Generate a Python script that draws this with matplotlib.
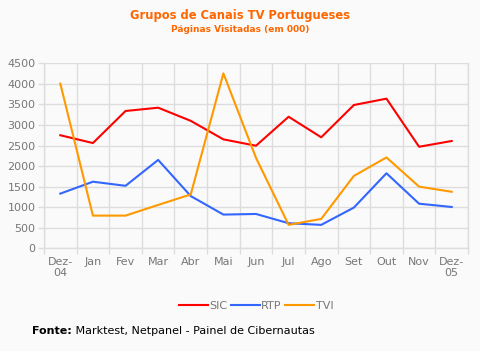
import matplotlib
matplotlib.use("Agg")
import matplotlib.pyplot as plt
import numpy as np

months = ["Dez-\n04", "Jan", "Fev", "Mar", "Abr", "Mai", "Jun", "Jul", "Ago", "Set", "Out", "Nov", "Dez-\n05"]
sic = [2750, 2560, 3340, 3420, 3100, 2650, 2495, 3200, 2700, 3485, 3640, 2470, 2610]
rtp = [1330, 1620, 1520, 2150, 1270, 820, 835, 610, 570, 990, 1825, 1085, 1005]
tvi = [4005, 795, 795, 1055, 1310, 4255, 2200, 570, 715, 1760, 2210, 1500, 1375]
yticks = [0, 500, 1000, 1500, 2000, 2500, 3000, 3500, 4000, 4500]

bg = "#fafafa"
grid = "#dddddd"
tickc = "#777777"

fig = plt.figure(figsize=(4.8, 3.51), dpi=100, facecolor=bg)
ax = fig.add_axes([44/480, 1-248.3/351, (468-44)/480, (248.3-63.3)/351], facecolor=bg)

x = np.arange(len(months))
ax.plot(x, sic, color="#ff0000", lw=1.5, label="SIC")
ax.plot(x, rtp, color="#3366ff", lw=1.5, label="RTP")
ax.plot(x, tvi, color="#ff9900", lw=1.5, label="TVI")

ax.set_xlim(-0.5, len(months) - 0.5)
ax.set_ylim(0, 4500)
ax.set_yticks(yticks)
ax.set_yticklabels([str(v) for v in yticks])
ax.set_xticks(x)
ax.set_xticklabels(months, linespacing=1.15)
ax.set_xticks(np.arange(-0.5, len(months)), minor=True)
ax.tick_params(axis="x", which="major", length=0, pad=6, labelsize=8, labelcolor=tickc)
ax.tick_params(axis="x", which="minor", length=4, color=grid, width=1)
ax.tick_params(axis="y", length=4, color=grid, width=1, labelsize=8, labelcolor=tickc, pad=2)
ax.grid(True, axis="y", color=grid, lw=1)
ax.grid(True, axis="x", which="minor", color=grid, lw=1)
ax.spines["top"].set_visible(False)
for s in ["left", "bottom", "right"]:
    ax.spines[s].set_color(grid)
    ax.spines[s].set_linewidth(1)
ax.set_axisbelow(True)

fig.text(0.5, 1-15/351, "Grupos de Canais TV Portugueses", color="#ff6600",
         fontsize=8.3, fontweight="bold", ha="center", va="center")
fig.text(0.5, 1-29/351, "Páginas Visitadas (em 000)", color="#ff6600",
         fontsize=6.5, fontweight="bold", ha="center", va="center")

fig.legend(loc="center", bbox_to_anchor=(256/480, 1-306/351), ncol=3, frameon=False,
           fontsize=8, labelcolor=tickc, handlelength=2.6, handletextpad=0.15,
           columnspacing=0.3)

t = fig.text(32/480, 1-331/351, "Fonte:", fontsize=8, fontweight="bold",
             color="black", ha="left", va="center")
ax.annotate(" Marktest, Netpanel - Painel de Cibernautas", xy=(1, 0.5), xycoords=t,
            fontsize=8, color="black", ha="left", va="center", annotation_clip=False)

fig.savefig("out.png", dpi=100, facecolor=bg)
